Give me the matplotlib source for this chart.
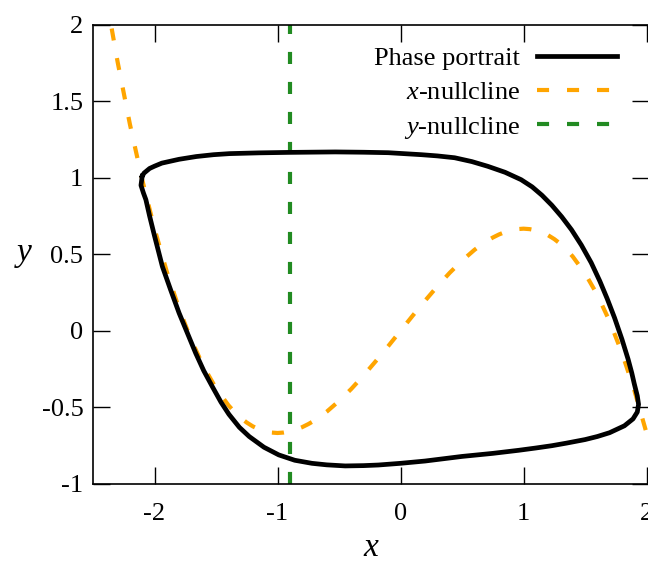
import numpy as np
import matplotlib
matplotlib.use("Agg")
import matplotlib.pyplot as plt

plt.rcParams['font.family'] = ['Liberation Serif', 'DejaVu Serif']
plt.rcParams['mathtext.fontset'] = 'custom'
plt.rcParams['mathtext.rm'] = 'Liberation Serif'
plt.rcParams['mathtext.it'] = 'Liberation Serif:italic'
plt.rcParams['axes.unicode_minus'] = False

# limit cycle
cycle_x = [-2.10, -2.085, -2.04, -2.00, -1.94, -1.80, -1.66, -1.52, -1.39, -1.15,
           -0.91, -0.53, -0.30, -0.10, 0.17, 0.30, 0.44, 0.58, 0.71, 0.85,
           0.98, 1.07, 1.15, 1.23, 1.31, 1.39, 1.47, 1.55, 1.62, 1.68,
           1.74, 1.80, 1.85, 1.88, 1.90, 1.925, 1.935, 1.925, 1.89, 1.82,
           1.70, 1.60, 1.50, 1.35, 1.23, 1.10, 0.96, 0.75, 0.50, 0.35,
           0.20, 0.00, -0.18, -0.30, -0.45, -0.60, -0.72, -0.86, -0.99, -1.11,
           -1.23, -1.31, -1.395, -1.46, -1.53, -1.60, -1.665, -1.73, -1.80, -1.87,
           -1.936, -2.00, -2.04, -2.07, -2.09, -2.11, -2.10]
cycle_y = [1.01, 1.03, 1.06, 1.075, 1.095, 1.12, 1.138, 1.15, 1.157, 1.162,
           1.165, 1.168, 1.166, 1.163, 1.15, 1.142, 1.13, 1.105, 1.074, 1.035,
           0.987, 0.94, 0.885, 0.82, 0.745, 0.66, 0.56, 0.445, 0.325, 0.21,
           0.085, -0.055, -0.185, -0.275, -0.345, -0.425, -0.48, -0.53, -0.575, -0.62,
           -0.665, -0.69, -0.71, -0.733, -0.75, -0.765, -0.78, -0.80, -0.82, -0.835,
           -0.85, -0.865, -0.876, -0.880, -0.882, -0.875, -0.865, -0.845, -0.81, -0.76,
           -0.69, -0.63, -0.545, -0.465, -0.364, -0.26, -0.146, -0.02, 0.116, 0.27,
           0.42, 0.62, 0.75, 0.856, 0.90, 0.95, 1.01]

# x-nullcline (cubic)
ncx = [-2.4, -2.3, -2.2, -2.1, -2.0, -1.9, -1.8, -1.7, -1.6, -1.5, -1.4, -1.35,
       -1.3, -1.25, -1.2, -1.15, -1.1, -1.05, -1.0, -0.95, -0.9, -0.85, -0.8,
       -0.75, -0.7, -0.65, -0.6, -0.5, -0.4, -0.3, -0.2, -0.1, 0.0, 0.1, 0.2,
       0.3, 0.4, 0.5, 0.6, 0.65, 0.7, 0.75, 0.8, 0.85, 0.9, 0.95, 1.0, 1.05,
       1.1, 1.15, 1.2, 1.25, 1.3, 1.35, 1.4, 1.5, 1.6, 1.7, 1.8, 1.9, 2.0, 2.1]
ncy = [2.208, 1.756, 1.349, 0.987, 0.667, 0.386, 0.144, -0.062, -0.235, -0.375,
       -0.485, -0.530, -0.568, -0.599, -0.624, -0.643, -0.656, -0.664, -0.667,
       -0.664, -0.657, -0.645, -0.629, -0.609, -0.586, -0.558, -0.528, -0.458,
       -0.379, -0.291, -0.197, -0.1, 0.0, 0.1, 0.197, 0.291, 0.379, 0.458, 0.528,
       0.558, 0.586, 0.609, 0.629, 0.645, 0.657, 0.664, 0.667, 0.664, 0.656,
       0.643, 0.624, 0.599, 0.568, 0.530, 0.485, 0.375, 0.235, 0.062, -0.144,
       -0.386, -0.667, -0.987]

# y-nullcline (vertical)
y_null_x = -0.9
y_null_span = [-1.0, 2.0]

fig = plt.figure(figsize=(6.48, 5.63), dpi=100)
ax = fig.add_axes([93/648, 79/563, 556/648, 459.5/563])

ax.plot(cycle_x, cycle_y, color='black', lw=3.4, label='Phase portrait', zorder=3,
        solid_joinstyle='round')
l1, = ax.plot(ncx, ncy, color='#ffa500', lw=3, label='$x$-nullcline', zorder=2)
l1.set_dashes((2.9, 4.3))
l2, = ax.plot([y_null_x, y_null_x], y_null_span, color='#228b22', lw=3,
              label='$y$-nullcline', zorder=2)
l2.set_dashes((2.9, 4.3))

ax.set_xlim(-2.5, 2.02)
ax.set_ylim(-1, 2)
ax.set_xticks([-2, -1, 0, 1, 2])
ax.set_yticks([-1, -0.5, 0, 0.5, 1, 1.5, 2])
ax.set_yticklabels(['-1', '-0.5', '0', '0.5', '1', '1.5', '2'])
ax.tick_params(direction='in', length=12, width=1, top=True, right=True,
               labelsize=19)
ax.tick_params(axis='x', pad=14)
ax.tick_params(axis='y', pad=7)
for s in ax.spines.values():
    s.set_linewidth(1.2)

ax.set_xlabel('$x$', fontsize=24, labelpad=5)
ax.set_ylabel('$y$', fontsize=24, rotation=0, labelpad=13, va='center')

ax.legend(loc='upper right', bbox_to_anchor=(0.942, 0.951), frameon=False,
          fontsize=19, markerfirst=False, handlelength=3.03, handletextpad=0.64,
          labelspacing=0.39, borderaxespad=0, borderpad=0)

fig.savefig('out.png', dpi=100)
